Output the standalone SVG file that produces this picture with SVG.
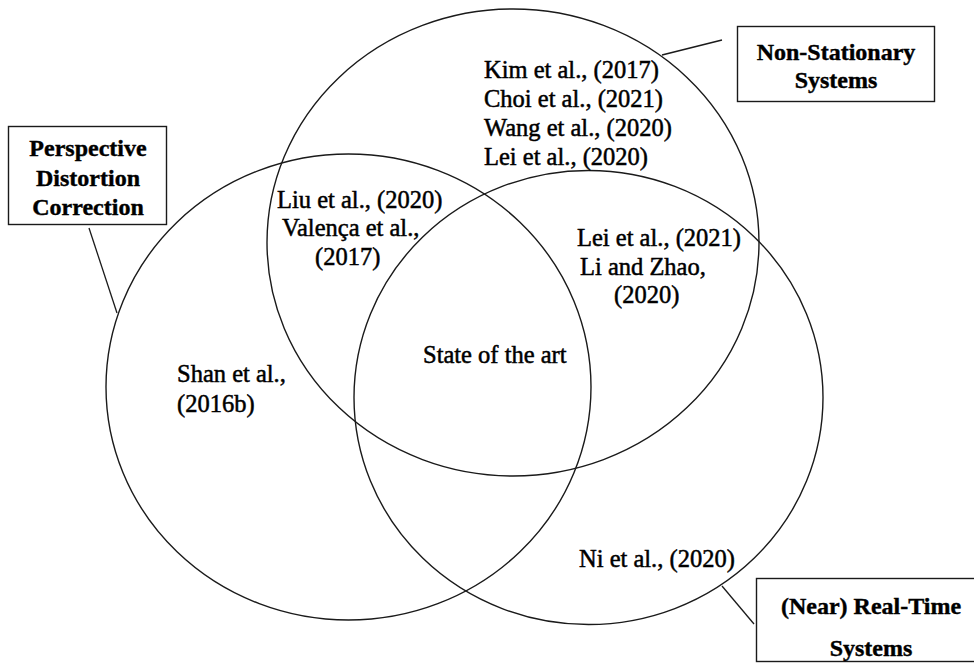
<svg xmlns="http://www.w3.org/2000/svg" width="974" height="663" viewBox="0 0 974 663">
  <style>
    .set { fill: none; stroke: #1a1a1a; stroke-width: 1.4; }
    .box { fill: #ffffff; stroke: #1a1a1a; stroke-width: 1.4; }
    .lead { stroke: #1a1a1a; stroke-width: 1.3; fill: none; }
    .ref { font-family: "Liberation Serif", "Times New Roman", serif; font-size: 24.5px; fill: #000; stroke: #000; stroke-width: 0.5; }
    .title { font-family: "Liberation Serif", "Times New Roman", serif; font-size: 24px; font-weight: bold; fill: #000; stroke: #000; stroke-width: 0.4; text-anchor: middle; }
  </style>
  <rect width="974" height="663" fill="#ffffff"/>

  <!-- Set outlines -->
  <g id="sets">
    <ellipse id="set-non-stationary" class="set" cx="513" cy="242.5" rx="246" ry="233.5"/>
    <ellipse id="set-perspective" class="set" cx="348.5" cy="387" rx="242.5" ry="233"/>
    <ellipse id="set-real-time" class="set" cx="588.5" cy="397.5" rx="234.5" ry="227"/>
  </g>

  <!-- Leader lines from labels to sets -->
  <g id="connectors">
    <line class="lead" x1="89" y1="228" x2="117" y2="313"/>
    <line class="lead" x1="722" y1="40" x2="662" y2="55"/>
    <line class="lead" x1="722" y1="586" x2="754" y2="624"/>
  </g>

  <!-- Set labels -->
  <g id="label-perspective">
    <rect class="box" x="8.5" y="126.5" width="158" height="98"/>
    <text class="title" x="88" y="156">Perspective</text>
    <text class="title" x="88" y="186">Distortion</text>
    <text class="title" x="88" y="215">Correction</text>
  </g>
  <g id="label-non-stationary">
    <rect class="box" x="737.5" y="26.5" width="197" height="75"/>
    <text class="title" x="836" y="60">Non-Stationary</text>
    <text class="title" x="836" y="88">Systems</text>
  </g>
  <g id="label-real-time">
    <rect class="box" x="756.5" y="578.5" width="230" height="83"/>
    <text class="title" x="871" y="614">(Near) Real-Time</text>
    <text class="title" x="871" y="656">Systems</text>
  </g>

  <!-- Region contents -->
  <g id="region-non-stationary">
    <text class="ref" x="484" y="78">Kim et al., (2017)</text>
    <text class="ref" x="484" y="107">Choi et al., (2021)</text>
    <text class="ref" x="484" y="136">Wang et al., (2020)</text>
    <text class="ref" x="484" y="165">Lei et al., (2020)</text>
  </g>
  <g id="region-perspective-non-stationary">
    <text class="ref" x="277" y="208">Liu et al., (2020)</text>
    <text class="ref" x="282" y="236">Valença et al.,</text>
    <text class="ref" x="315" y="265">(2017)</text>
  </g>
  <g id="region-non-stationary-real-time">
    <text class="ref" x="577" y="246">Lei et al., (2021)</text>
    <text class="ref" x="580" y="275">Li and Zhao,</text>
    <text class="ref" x="614" y="303">(2020)</text>
  </g>
  <g id="region-all">
    <text class="ref" x="423" y="363">State of the art</text>
  </g>
  <g id="region-perspective">
    <text class="ref" x="177" y="382">Shan et al.,</text>
    <text class="ref" x="177" y="412">(2016b)</text>
  </g>
  <g id="region-real-time">
    <text class="ref" x="579" y="567">Ni et al., (2020)</text>
  </g>
</svg>
